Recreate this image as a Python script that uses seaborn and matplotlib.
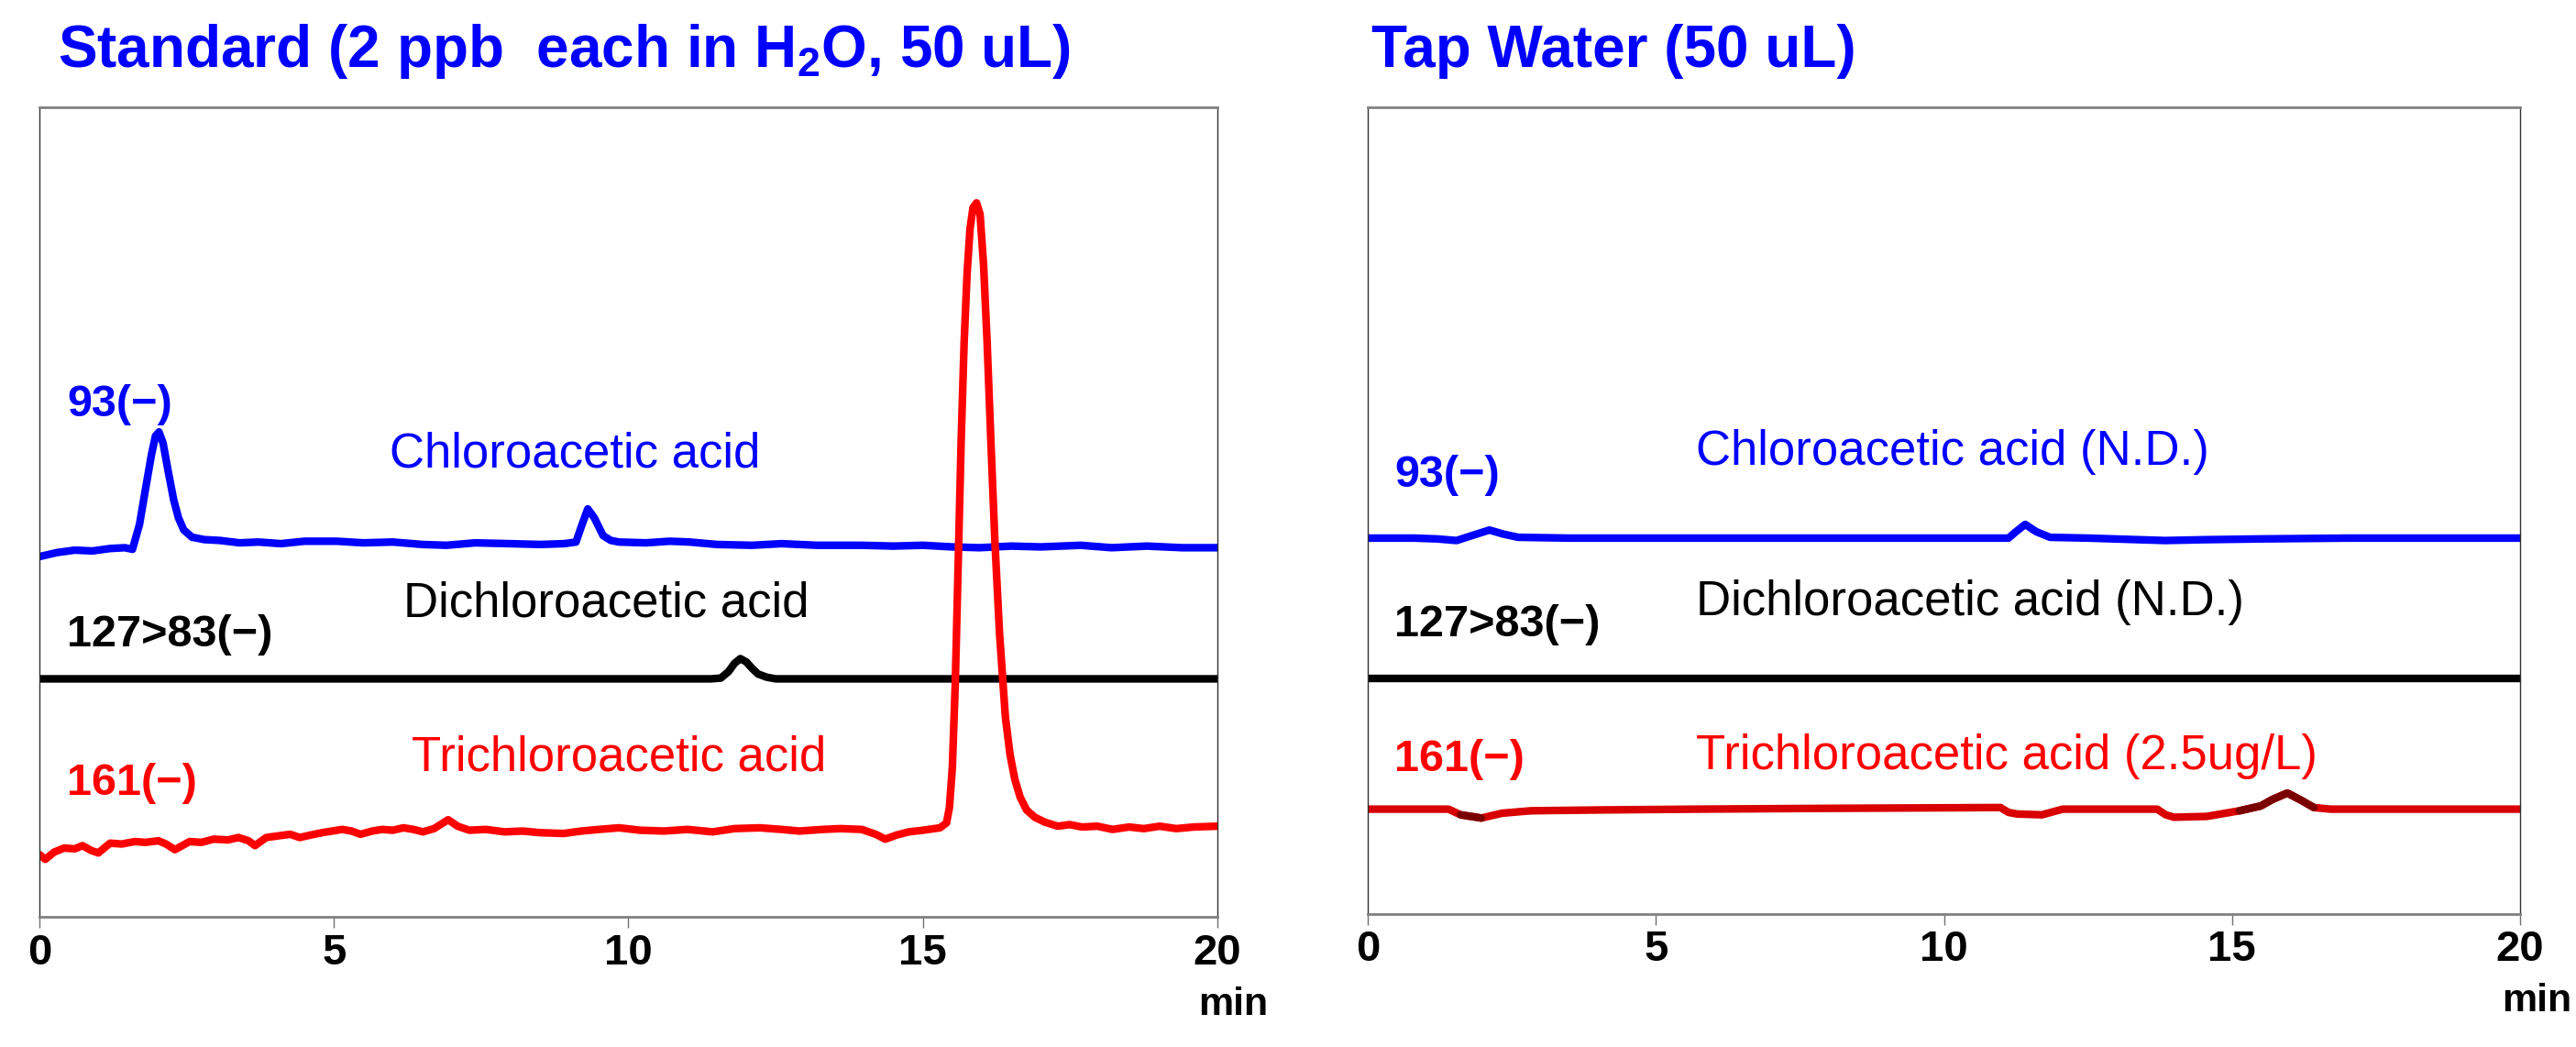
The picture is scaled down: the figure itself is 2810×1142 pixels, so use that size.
import matplotlib.pyplot as plt
import pandas as pd
import seaborn as sns

sns.set_theme(style="white")
plt.rcParams["font.family"] = ["Liberation Sans", "DejaVu Sans"]

# ---- data (time in min, signal in arbitrary units) ----

# Standard, m/z 93(-) chloroacetic acid
std_cl1_t = [0.00, 0.30, 0.60, 0.90, 1.20, 1.45, 1.58, 1.70, 1.80, 1.90, 1.97, 2.03,
             2.10, 2.19, 2.28, 2.36, 2.45, 2.59, 2.80, 3.06, 3.40, 3.72, 4.10, 4.50,
             5.05, 5.50, 6.00, 6.50, 6.91, 7.40, 7.98, 8.50, 8.91, 9.11, 9.20, 9.31,
             9.42, 9.57, 9.70, 9.84, 10.30, 10.70, 11.04, 11.50, 12.10, 12.60, 13.20,
             13.96, 14.50, 15.00, 15.50, 15.96, 16.50, 17.00, 17.68, 18.20, 18.80,
             19.40, 20.00]
std_cl1_y = [44.5, 45.0, 45.3, 45.2, 45.5, 45.6, 45.4, 48.5, 52.8, 57.0, 59.4, 59.9,
             58.5, 54.9, 51.5, 49.3, 47.8, 46.9, 46.6, 46.5, 46.2, 46.3, 46.1, 46.4,
             46.4, 46.2, 46.3, 46.0, 45.9, 46.2, 46.1, 46.0, 46.1, 46.3, 48.2, 50.4,
             49.3, 47.1, 46.5, 46.3, 46.2, 46.4, 46.3, 46.0, 45.9, 46.1, 45.9,
             45.9, 45.8, 45.9, 45.7, 45.6, 45.8, 45.7, 45.9, 45.6, 45.8,
             45.6, 45.6]

# Standard, 127>83(-) dichloroacetic acid
std_cl2_t = [0.0, 2.0, 4.0, 6.0, 8.0, 10.0, 11.40, 11.57, 11.70, 11.80, 11.90, 12.00,
             12.10, 12.20, 12.35, 12.50, 14.0, 16.0, 18.0, 20.0]
std_cl2_y = [29.4, 29.4, 29.4, 29.4, 29.4, 29.4, 29.4, 29.5, 30.3, 31.3, 31.9, 31.5,
             30.7, 30.0, 29.6, 29.4, 29.4, 29.4, 29.4, 29.4]

# Standard, m/z 161(-) trichloroacetic acid
std_cl3_t = [0.00, 0.10, 0.25, 0.42, 0.60, 0.73, 0.88, 1.00, 1.20, 1.40, 1.62, 1.80,
             2.02, 2.15, 2.30, 2.55, 2.75, 2.96, 3.20, 3.38, 3.55, 3.66, 3.85, 4.05,
             4.26, 4.42, 4.60, 4.80, 5.14, 5.30, 5.45, 5.65, 5.82, 6.00, 6.18, 6.35,
             6.51, 6.70, 6.94, 7.10, 7.30, 7.58, 7.90, 8.20, 8.50, 8.90, 9.20, 9.50,
             9.84, 10.20, 10.60, 11.00, 11.43, 11.80, 12.23, 12.60, 12.90, 13.30,
             13.60, 13.96, 14.20, 14.36, 14.55, 14.76, 15.00, 15.29, 15.40, 15.45,
             15.50, 15.55, 15.60, 15.65, 15.70, 15.75, 15.80, 15.85, 15.91, 15.97,
             16.03, 16.09, 16.15, 16.22, 16.30, 16.40, 16.48, 16.56, 16.65, 16.76,
             16.90, 17.07, 17.29, 17.49, 17.70, 17.96, 18.22, 18.50, 18.75, 19.02,
             19.30, 19.60, 20.00]
std_cl3_y = [7.7, 7.1, 8.0, 8.5, 8.4, 8.8, 8.2, 7.9, 9.1, 9.0, 9.3, 9.2,
             9.4, 9.0, 8.3, 9.3, 9.2, 9.6, 9.5, 9.8, 9.4, 8.8, 9.8, 10.0,
             10.2, 9.8, 10.1, 10.4, 10.8, 10.6, 10.2, 10.6, 10.8, 10.7, 11.0, 10.8,
             10.5, 10.9, 12.0, 11.2, 10.7, 10.8, 10.5, 10.6, 10.4, 10.3, 10.6, 10.8,
             11.0, 10.7, 10.6, 10.8, 10.5, 10.9, 11.0, 10.8, 10.6, 10.8,
             10.9, 10.8, 10.2, 9.6, 10.1, 10.5, 10.7, 11.0, 11.6, 13.5,
             18.5, 29.0, 44.0, 59.0, 71.0, 79.5, 85.0, 87.6, 88.2, 86.8,
             80.5, 71.0, 59.5, 46.7, 35.1, 24.7, 20.0, 17.0, 14.8, 13.2,
             12.3, 11.7, 11.2, 11.4, 11.1, 11.2, 10.8, 11.1, 10.9, 11.2,
             10.9, 11.1, 11.2]

# Tap water, m/z 93(-)
tap_cl1_t = [0.0, 0.8, 1.20, 1.54, 1.80, 2.11, 2.35, 2.61, 3.5, 5.0, 7.0, 9.0, 10.5,
             11.12, 11.25, 11.41, 11.60, 11.84, 12.5, 13.84, 14.5, 15.5, 17.0, 18.5, 20.0]
tap_cl1_y = [46.6, 46.6, 46.5, 46.3, 46.9, 47.6, 47.1, 46.7, 46.6, 46.6, 46.6, 46.6, 46.6,
             46.6, 47.4, 48.3, 47.4, 46.7, 46.6, 46.3, 46.4, 46.5, 46.6, 46.6, 46.6]

# Tap water, 127>83(-)
tap_cl2_t = [0.0, 5.0, 10.0, 15.0, 20.0]
tap_cl2_y = [29.2, 29.2, 29.2, 29.2, 29.2]

# Tap water, m/z 161(-)
tap_cl3_t = [0.0, 1.40, 1.61, 1.97, 2.33, 2.83, 4.0, 5.69, 8.0, 10.98, 11.12, 11.27,
             11.70, 12.06, 13.0, 13.70, 13.85, 13.99, 14.56, 15.13, 15.50, 15.70,
             15.96, 16.20, 16.42, 16.71, 18.0, 20.0]
tap_cl3_y = [13.0, 13.0, 12.3, 11.9, 12.5, 12.8, 12.9, 13.0, 13.1, 13.2, 12.6, 12.4,
             12.3, 13.0, 13.0, 13.0, 12.3, 12.0, 12.1, 12.8, 13.4, 14.2,
             15.0, 14.1, 13.2, 13.0, 13.0, 13.0]
# stretches of the tap-water 161 trace drawn in dark red
tap_dark_ranges = [(1.60, 2.00), (15.10, 16.70)]

x_ticks = [0, 5, 10, 15, 20]
mz_labels = ["93(\u2212)", "127>83(\u2212)", "161(\u2212)"]
std_names = ["Chloroacetic acid", "Dichloroacetic acid", "Trichloroacetic acid"]
tap_names = ["Chloroacetic acid (N.D.)", "Dichloroacetic acid (N.D.)",
             "Trichloroacetic acid (2.5ug/L)"]
titles = ["Standard (2 ppb  each in H$_\\mathregular{2}$O, 50 uL)", "Tap Water (50 uL)"]

BLUE = "#0000ff"
RED = "#ff0000"
TAP_RED = "#d80000"
DARK_RED = "#7a0000"
LW = 6


def trace(t, y):
    return pd.DataFrame({"time": t, "signal": y})


def style_axes(ax):
    ax.set_xlim(0, 20)
    ax.set_ylim(0, 100)
    ax.set_xticks(x_ticks)
    ax.set_yticks([])
    ax.set_xlabel("")
    ax.set_ylabel("")
    ax.tick_params(axis="x", direction="out", length=8.6, width=1.0,
                   color="#707070", pad=4, labelsize=34, labelcolor="black",
                   bottom=True)
    for lbl in ax.get_xticklabels():
        lbl.set_fontweight("bold")
    for side in ["top", "bottom"]:
        ax.spines[side].set_color("#808080")
        ax.spines[side].set_linewidth(2.0)
    for side in ["left", "right"]:
        ax.spines[side].set_color("#303030")
        ax.spines[side].set_linewidth(1.0)
    ax.text(0.984, -0.121, "min", transform=ax.transAxes, fontsize=31,
            fontweight="bold", color="black", ha="left", va="baseline")


fig = plt.figure(figsize=(28.1, 11.42), dpi=100)
ax1 = fig.add_axes([0.0153, 0.1243, 0.4573, 0.7732])
ax2 = fig.add_axes([0.5310, 0.1270, 0.4473, 0.7705])

# left panel: standard
sns.lineplot(data=trace(std_cl1_t, std_cl1_y), x="time", y="signal", ax=ax1,
             color=BLUE, lw=LW, estimator=None)
sns.lineplot(data=trace(std_cl2_t, std_cl2_y), x="time", y="signal", ax=ax1,
             color="black", lw=LW, estimator=None)
sns.lineplot(data=trace(std_cl3_t, std_cl3_y), x="time", y="signal", ax=ax1,
             color=RED, lw=LW, estimator=None)

# right panel: tap water
sns.lineplot(data=trace(tap_cl1_t, tap_cl1_y), x="time", y="signal", ax=ax2,
             color=BLUE, lw=LW, estimator=None)
sns.lineplot(data=trace(tap_cl2_t, tap_cl2_y), x="time", y="signal", ax=ax2,
             color="black", lw=LW, estimator=None)
tap3 = trace(tap_cl3_t, tap_cl3_y)
sns.lineplot(data=tap3, x="time", y="signal", ax=ax2, color=TAP_RED, lw=LW,
             estimator=None)
for lo, hi in tap_dark_ranges:
    part = tap3[(tap3["time"] >= lo) & (tap3["time"] <= hi)]
    sns.lineplot(data=part, x="time", y="signal", ax=ax2, color=DARK_RED, lw=LW,
                 estimator=None)

for ax in (ax1, ax2):
    style_axes(ax)

colors = [BLUE, "black", RED]

# labels (x in min, baseline y in signal units)
std_mz_pos = [(0.47, 61.8), (0.47, 33.4), (0.47, 15.1)]
std_name_pos = [(5.95, 55.6), (6.18, 37.1), (6.32, 18.1)]
tap_mz_pos = [(0.46, 52.9), (0.46, 34.4), (0.46, 17.7)]
tap_name_pos = [(5.70, 55.7), (5.70, 37.1), (5.70, 18.0)]

for i in range(3):
    ax1.text(*std_mz_pos[i], mz_labels[i], color=colors[i], fontsize=35,
             fontweight="bold", va="baseline")
    ax1.text(*std_name_pos[i], std_names[i], color=colors[i], fontsize=38,
             va="baseline")
    ax2.text(*tap_mz_pos[i], mz_labels[i], color=colors[i], fontsize=35,
             fontweight="bold", va="baseline")
    ax2.text(*tap_name_pos[i], tap_names[i], color=colors[i], fontsize=38,
             va="baseline")

fig.text(63 / 2810, 1 - 73 / 1142, titles[0], color=BLUE, fontsize=46,
         fontweight="bold", va="baseline")
fig.text(1496 / 2810, 1 - 73 / 1142, titles[1], color=BLUE, fontsize=46,
         fontweight="bold", va="baseline")

fig.savefig("out.png", dpi=100)
